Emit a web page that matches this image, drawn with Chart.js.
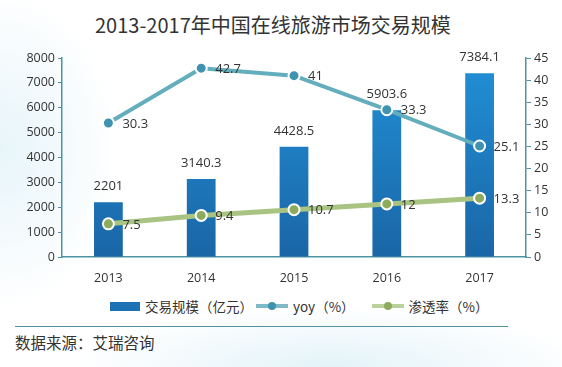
<!DOCTYPE html>
<html>
<head>
<meta charset="utf-8">
<script src="https://cdn.jsdelivr.net/npm/chart.js@4"></script>
<style>
  body { margin: 0; }
  #wrap {
    position: relative; width: 562px; height: 367px; overflow: hidden;
    background:
      radial-gradient(ellipse 120px 160px at 0px 150px, rgba(215,238,246,0.6), rgba(255,255,255,0)),
      radial-gradient(ellipse 260px 60px at 330px 367px, rgba(215,238,246,0.7), rgba(255,255,255,0)),
      #fff;
    font-family: "Noto Sans CJK SC", sans-serif; color: #333;
  }
  #title { position: absolute; left: 95px; top: 10px; font-size: 20px; line-height: 30px; white-space: nowrap; }
  #chart-box { position: absolute; left: 0; top: 40px; width: 562px; height: 250px; }
  #legend {
    position: absolute; left: 110px; top: 295px; height: 22px; display: flex; align-items: center;
    font-size: 13.5px; white-space: nowrap;
  }
  .sw-bar { width: 30px; height: 9px; background: #1c72b4; margin-right: 5px; }
  .sw-line { position: relative; width: 32px; height: 4px; margin: 0 5px 0 3px; }
  .sw-line i { position: absolute; left: 12px; top: -2px; width: 8px; height: 8px; border-radius: 50%; }
  #rule { position: absolute; left: 15px; top: 326px; width: 493px; height: 0; border-top: 1.5px solid #4f93a3; }
  #source { position: absolute; left: 15px; top: 331px; font-size: 15.5px; line-height: 22px; }
</style>
</head>
<body>
<div id="wrap">
  <div id="title">2013-2017年中国在线旅游市场交易规模</div>
  <div id="chart-box"><canvas id="chart"></canvas></div>
  <div id="legend">
    <span class="sw-bar"></span><span>交易规模（亿元）</span>
    <span class="sw-line" style="background:#7db9c7"><i style="background:#3f93b0"></i></span><span>yoy（%）</span>
    <span class="sw-line" style="background:#bcd09c;margin-left:17px"><i style="background:#8cab5c"></i></span><span>渗透率（%）</span>
  </div>
  <div id="rule"></div>
  <div id="source">数据来源：艾瑞咨询</div>
</div>
<script>
// ── DATA ────────────────────────────────────────────────────
const years       = ['2013', '2014', '2015', '2016', '2017'];
const tradeScale  = [2201, 3140.3, 4428.5, 5903.6, 7384.1];   // 亿元
const yoy         = [30.3, 42.7, 41, 33.3, 25.1];             // %
const penetration = [7.5, 9.4, 10.7, 12, 13.3];               // %
const leftTicks   = [0, 1000, 2000, 3000, 4000, 5000, 6000, 7000, 8000];
const rightTicks  = [0, 5, 10, 15, 20, 25, 30, 35, 40, 45];

const axisColor = '#4f93a3';
const tickFont  = { family: '"Open Sans", "Noto Sans", sans-serif', size: 12.5 };

// ── VALUE LABELS ────────────────────────────────────────────
const valueLabels = {
  id: 'valueLabels',
  afterDatasetsDraw(chart) {
    const c = chart.ctx;
    c.save();
    c.font = '13px "Open Sans", "Noto Sans", sans-serif';
    c.fillStyle = '#333';
    c.textBaseline = 'middle';
    chart.data.datasets.forEach((ds, i) => {
      const meta = chart.getDatasetMeta(i);
      meta.data.forEach((el, j) => {
        const v = ds.data[j];
        if (ds.type === 'bar') {
          c.textAlign = 'center';
          c.fillText(String(v), el.x, el.y - 16);
        } else {
          c.textAlign = 'left';
          c.fillText(String(v), el.x + 14, el.y + 1);
        }
      });
    });
    c.restore();
  }
};

// ── CHART ───────────────────────────────────────────────────
const ctx = document.getElementById('chart');
new Chart(ctx, {
  data: {
    labels: years,
    datasets: [
      {
        type: 'line', label: 'yoy（%）', data: yoy, yAxisID: 'y1', order: 1,
        borderColor: '#62aebd', borderWidth: 4, tension: 0,
        pointRadius: 5.5, pointBackgroundColor: '#3f93b0',
        pointBorderColor: '#fff', pointBorderWidth: 2
      },
      {
        type: 'line', label: '渗透率（%）', data: penetration, yAxisID: 'y1', order: 2,
        borderColor: '#a8c382', borderWidth: 5, tension: 0,
        pointRadius: 5.5, pointBackgroundColor: '#8cab5c',
        pointBorderColor: '#fff', pointBorderWidth: 2
      },
      {
        type: 'bar', label: '交易规模（亿元）', data: tradeScale, yAxisID: 'y', order: 3,
        barPercentage: 0.62, categoryPercentage: 0.5,
        backgroundColor: (c) => {
          const area = c.chart.chartArea;
          if (!area) return '#1c7fc4';
          const g = c.chart.ctx.createLinearGradient(0, area.top, 0, area.bottom);
          g.addColorStop(0, '#2190d6');
          g.addColorStop(1, '#1a66a6');
          return g;
        }
      }
    ]
  },
  options: {
    responsive: true,
    maintainAspectRatio: false,
    animation: false,
    layout: { padding: { top: 18, left: 0, right: 0, bottom: 0 } },
    plugins: { legend: { display: false }, tooltip: { enabled: false } },
    scales: {
      x: {
        grid: { display: false },
        border: { color: axisColor, width: 1.5 },
        ticks: { color: '#333', font: tickFont, padding: 6 },
        afterFit: s => { s.height = 33; }
      },
      y: {
        position: 'left', min: 0, max: 8000,
        afterBuildTicks: s => { s.ticks = leftTicks.map(v => ({ value: v })); },
        grid: { drawOnChartArea: false, color: axisColor, tickLength: 4 },
        border: { color: axisColor, width: 1.5 },
        ticks: { color: '#333', font: tickFont, padding: 3, callback: v => String(v) },
        afterFit: s => { s.width = 62; }
      },
      y1: {
        position: 'right', min: 0, max: 45,
        afterBuildTicks: s => { s.ticks = rightTicks.map(v => ({ value: v })); },
        grid: { drawOnChartArea: false, color: axisColor, tickLength: 5 },
        border: { color: axisColor, width: 1.5 },
        ticks: { color: '#333', font: tickFont, padding: 3, callback: v => String(v) },
        afterFit: s => { s.width = 36; }
      }
    }
  },
  plugins: [valueLabels]
});
</script>
</body>
</html>
